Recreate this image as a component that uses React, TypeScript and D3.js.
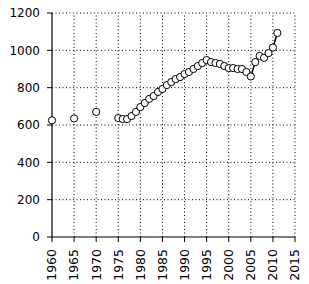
import React from "react";
import * as d3 from "d3";

const earlyYears = [1960, 1965, 1970];
const earlyValues = [625, 635, 670];
const years = [1975,1976,1977,1978,1979,1980,1981,1982,1983,1984,1985,1986,1987,1988,1989,1990,1991,1992,1993,1994,1995,1996,1997,1998,1999,2000,2001,2002,2003,2004,2005,2006,2007,2008,2009,2010,2011];
const values = [637,632,632,648,670,696,718,740,755,777,793,814,830,846,857,873,884,900,916,932,948,937,932,927,916,905,905,900,900,884,860,937,970,960,985,1015,1093];
const xTicks = [1960,1965,1970,1975,1980,1985,1990,1995,2000,2005,2010,2015];
const yTicks = [0,200,400,600,800,1000,1200];

export default function App() {
  const x = d3.scaleLinear().domain([1960, 2015]).range([52, 295]);
  const y = d3.scaleLinear().domain([0, 1200]).range([237, 13]);
  const line = d3.line<number>().x((_, i) => x(years[i])).y((d) => y(d));
  const font = "DejaVu Sans, sans-serif";
  return (
    <svg width={309} height={284} style={{ position: "absolute", left: 0, top: 0, background: "#fff" }}>
      {xTicks.slice(1).map((t) => (
        <line key={"gx" + t} x1={x(t)} x2={x(t)} y1={y(0)} y2={y(1200)} stroke="#000" strokeWidth={1} strokeDasharray="1,2.5" />
      ))}
      {yTicks.slice(1).map((t) => (
        <line key={"gy" + t} x1={x(1960)} x2={x(2015)} y1={y(t)} y2={y(t)} stroke="#000" strokeWidth={1} strokeDasharray="1,2.5" />
      ))}
      <line x1={x(1960)} x2={x(1960)} y1={y(0)} y2={y(1200)} stroke="#000" strokeWidth={1.2} />
      <line x1={x(1960)} x2={x(2015)} y1={y(0)} y2={y(0)} stroke="#000" strokeWidth={1.2} />
      {yTicks.map((t) => (
        <g key={"ty" + t}>
          <line x1={x(1960) - 5} x2={x(1960)} y1={y(t)} y2={y(t)} stroke="#000" />
          <text x={40} y={y(t)} dy="0.35em" textAnchor="end" fontFamily={font} fontSize={12} fill="#000">{t}</text>
        </g>
      ))}
      {xTicks.map((t) => (
        <g key={"tx" + t}>
          <line x1={x(t)} x2={x(t)} y1={y(0)} y2={y(0) + 5} stroke="#000" />
          <text transform={`translate(${x(t)},${249}) rotate(-90)`} dy="0.35em" textAnchor="end" fontFamily={font} fontSize={12.5} fill="#000">{t}</text>
        </g>
      ))}
      <path d={line(values) || ""} fill="none" stroke="#000" strokeWidth={1.5} />
      {earlyYears.map((yr, i) => (
        <circle key={"e" + yr} cx={x(yr)} cy={y(earlyValues[i])} r={3.6} fill="#fff" stroke="#000" strokeWidth={1} />
      ))}
      {years.map((yr, i) => (
        <circle key={"p" + yr} cx={x(yr)} cy={y(values[i])} r={3.6} fill="#fff" stroke="#000" strokeWidth={1} />
      ))}
    </svg>
  );
}
